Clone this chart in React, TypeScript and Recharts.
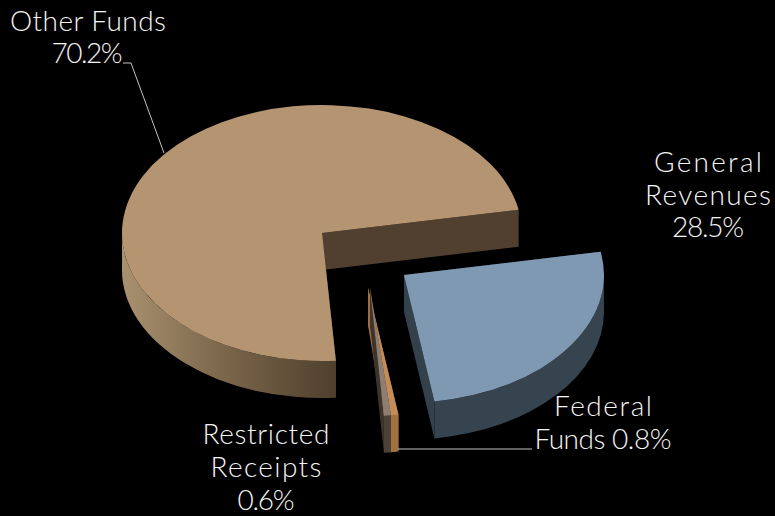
import React from "react";
import { PieChart, Pie } from "recharts";

const categories = ["General Revenues", "Federal Funds", "Restricted Receipts", "Other Funds"];
const shares = [28.5, 0.8, 0.6, 70.2];

const topColors = ["#7f99b2", "#c68c58", "#8d7e71", "#b59571"];
const radialWallColors = ["#33414c", "#a06c40", "#3d342c", "#514030"];
const rimColors = ["#36444f", "#a5703f", "#4c4137", "url(#rimTan)"];
const explodeX = [82, 46, 48, 0];
const explodeY = [42, 55, 55, 0];

const W = 775, H = 516;
const CX = 322, CY = 233, RX = 200, TILT = 0.64, DEPTH = 37;
const START = 15.1;
const WARP = 7, WARP_PHASE = 154;

const warp = (t: number) => t + WARP * Math.sin(((t - WARP_PHASE) * Math.PI) / 180);

type Label = { x: number; y: number; w: number; text: string };
const labels: Label[][] = [
  [
    { x: 708, y: 172, w: 108, text: "General" },
    { x: 708, y: 205, w: 126, text: "Revenues" },
    { x: 708, y: 237, w: 72, text: "28.5%" },
  ],
  [
    { x: 603, y: 416, w: 98, text: "Federal" },
    { x: 603, y: 449, w: 137, text: "Funds 0.8%" },
  ],
  [
    { x: 266, y: 444, w: 127, text: "Restricted" },
    { x: 266, y: 477, w: 111, text: "Receipts" },
    { x: 266, y: 510, w: 57, text: "0.6%" },
  ],
  [
    { x: 88, y: 31, w: 156, text: "Other Funds" },
    { x: 87, y: 63, w: 71, text: "70.2%" },
  ],
];
const leaders = ["", "398,449 532,449", "", "123,63 131,63 164,153"];

function Slice(props: any) {
  const { cx, cy, outerRadius, startAngle, endAngle, index, payload } = props;
  const i: number = index ?? categories.indexOf(payload?.name);
  const ax = cx + explodeX[i];
  const ay = cy + explodeY[i];
  const rx = outerRadius;
  const ry = outerRadius * TILT;
  const a = warp(Math.min(startAngle, endAngle));
  const b = warp(Math.max(startAngle, endAngle));
  const pt = (deg: number, drop = 0) => {
    const r = (deg * Math.PI) / 180;
    return `${ax + rx * Math.cos(r)} ${ay - ry * Math.sin(r) + drop}`;
  };
  const large = b - a > 180 ? 1 : 0;
  const lo = Math.max(a, 180);
  const hi = Math.min(b, 360);
  const arcLarge = hi - lo > 180 ? 1 : 0;
  const wall = (deg: number) =>
    `M${ax} ${ay}L${pt(deg)}L${pt(deg, DEPTH)}L${ax} ${ay + DEPTH}Z`;
  return (
    <g>
      <defs>
        <linearGradient id="rimTan" gradientUnits="userSpaceOnUse" x1="122" y1="0" x2="336" y2="0">
          <stop offset="0" stopColor="#a8916f" />
          <stop offset="0.45" stopColor="#7d684c" />
          <stop offset="1" stopColor="#4f3f2d" />
        </linearGradient>
      </defs>
      <path d={wall(b)} fill={radialWallColors[i]} />
      <path d={wall(a)} fill={radialWallColors[i]} />
      {hi > lo && (
        <path
          d={`M${pt(lo)}A${rx} ${ry} 0 ${arcLarge} 0 ${pt(hi)}L${pt(hi, DEPTH)}A${rx} ${ry} 0 ${arcLarge} 1 ${pt(lo, DEPTH)}Z`}
          fill={rimColors[i]}
        />
      )}
      <path d={`M${ax} ${ay}L${pt(a)}A${rx} ${ry} 0 ${large} 0 ${pt(b)}Z`} fill={topColors[i]} />
    </g>
  );
}

function SliceLabel(props: any) {
  const i: number = props.index;
  return (
    <g>
      {leaders[i] && <polyline points={leaders[i]} fill="none" stroke="#c4c4c4" strokeWidth={1} />}
      {labels[i].map((l) => (
        <text
          key={l.text}
          x={l.x}
          y={l.y}
          textAnchor="middle"
          fill="#f4f4f4"
          fontFamily="Lato, sans-serif"
          fontWeight={300}
          fontSize={28}
          textLength={l.w}
          lengthAdjust="spacing"
        >
          {l.text}
        </text>
      ))}
    </g>
  );
}

const pieData = categories.map((name, i) => ({ name, value: shares[i] }));

export default function App() {
  return (
    <div style={{ position: "absolute", left: 0, top: 0, width: W, height: H, background: "#000", overflow: "hidden" }}>
      <PieChart width={W} height={H} margin={{ top: 0, right: 0, bottom: 0, left: 0 }}>
        <Pie
          data={pieData}
          dataKey="value"
          nameKey="name"
          cx={CX}
          cy={CY}
          innerRadius={0}
          outerRadius={RX}
          startAngle={START + 360}
          endAngle={START}
          paddingAngle={0}
          stroke="none"
          isAnimationActive={false}
          shape={Slice}
          label={SliceLabel}
          labelLine={false}
        />
      </PieChart>
    </div>
  );
}
